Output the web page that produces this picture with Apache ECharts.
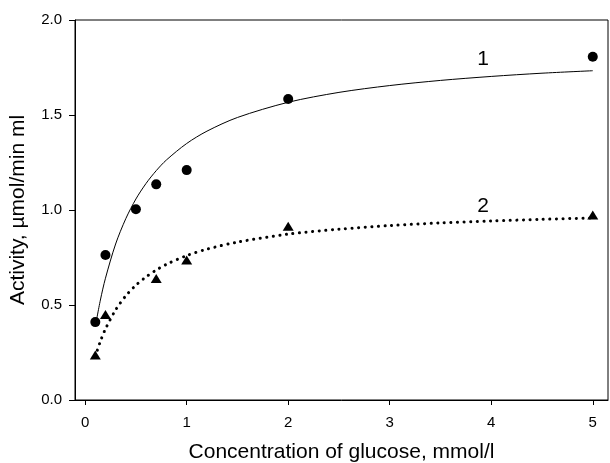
<!doctype html>
<html>
<head>
    <meta charset="utf-8">
    <title>Activity vs glucose</title>
    <script src="https://cdn.jsdelivr.net/npm/echarts@6/dist/echarts.min.js"></script>
</head>
<body style="margin:0;background:#fff">
    <div id="container" style="width:610px;height:463px;"></div>
    <script type="text/javascript">
        // measured points
        var conc = [0.1, 0.2, 0.5, 0.7, 1, 2, 5];
        var activity1 = [0.41, 0.763, 1.004, 1.135, 1.21, 1.584, 1.807];
        var conc2 = [0.1, 0.2, 0.7, 1, 2, 5];
        var activity2 = [0.237, 0.45, 0.64, 0.737, 0.915, 0.974];

        // fitted curves
        var curveX = [0.1, 0.15, 0.2, 0.3, 0.4, 0.5, 0.6, 0.7, 0.8, 1, 1.2, 1.5, 2, 2.5, 3, 3.5, 4, 4.5, 5];
        var curve1 = [0.387, 0.526, 0.641, 0.821, 0.954, 1.058, 1.14, 1.207, 1.263, 1.35, 1.415, 1.487, 1.567, 1.619, 1.655, 1.682, 1.703, 1.72, 1.733];
        var curve2 = [0.229, 0.309, 0.374, 0.474, 0.548, 0.604, 0.648, 0.684, 0.714, 0.76, 0.794, 0.831, 0.873, 0.899, 0.918, 0.932, 0.942, 0.951, 0.958];

        var xTicks = [0, 1, 2, 3, 4, 5];
        var curveNames = ['1', '2'];

        function pairs(xs, ys) {
            return xs.map(function (x, i) { return [x, ys[i]]; });
        }

        var font = 'Liberation Sans, Arial, sans-serif';

        function curveLabel(text, x, y) {
            return {
                symbol: 'circle',
                symbolSize: 1,
                itemStyle: { color: 'rgba(0,0,0,0)' },
                label: { show: true, position: 'inside', formatter: text, fontFamily: font, fontSize: 21, color: '#000' },
                data: [{ coord: [x, y] }]
            };
        }

        var option = {
            animation: false,
            grid: {
                left: 75, right: 2, top: 20, bottom: 63,
                containLabel: false, outerBoundsMode: 'none',
                show: true, borderColor: '#000', borderWidth: 1
            },
            xAxis: {
                type: 'value',
                min: -0.1,
                max: 5.15,
                name: 'Concentration of glucose, mmol/l',
                nameLocation: 'middle',
                nameGap: 42,
                nameTextStyle: { fontFamily: font, fontSize: 21, color: '#000' },
                axisLine: { onZero: false, lineStyle: { color: '#000' } },
                axisTick: { customValues: xTicks, length: 5, lineStyle: { color: '#000' } },
                axisLabel: { customValues: xTicks, fontFamily: font, fontSize: 15, color: '#000', margin: 15 },
                splitLine: { show: false }
            },
            yAxis: {
                type: 'value',
                min: 0,
                max: 2,
                interval: 0.5,
                name: 'Activity, µmol/min ml',
                nameLocation: 'middle',
                nameGap: 46,
                nameTextStyle: { fontFamily: font, fontSize: 21, color: '#000' },
                axisLine: { show: true, onZero: false, lineStyle: { color: '#000' } },
                axisTick: { show: true, length: 6, lineStyle: { color: '#000' } },
                axisLabel: {
                    fontFamily: font, fontSize: 15, color: '#000', margin: 13,
                    formatter: function (v) { return v.toFixed(1); }
                },
                splitLine: { show: false }
            },
            series: [
                {
                    type: 'line',
                    smooth: 0.3,
                    showSymbol: false,
                    data: pairs(curveX, curve1),
                    lineStyle: { color: '#000', width: 1 },
                    markPoint: curveLabel(curveNames[0], 3.92, 1.795)
                },
                {
                    type: 'line',
                    smooth: 0.3,
                    showSymbol: false,
                    data: pairs(curveX, curve2),
                    lineStyle: { color: '#000', width: 3, type: [0.1, 6.5], cap: 'round' },
                    markPoint: curveLabel(curveNames[1], 3.92, 1.02)
                },
                {
                    type: 'scatter',
                    symbol: 'circle',
                    symbolSize: 10,
                    itemStyle: { color: '#000', opacity: 1 },
                    data: pairs(conc, activity1)
                },
                {
                    type: 'scatter',
                    symbol: 'triangle',
                    symbolSize: [11, 9],
                    itemStyle: { color: '#000', opacity: 1 },
                    data: pairs(conc2, activity2)
                }
            ]
        };

        var myChart = echarts.init(document.getElementById('container'));
        myChart.setOption(option);
    </script>
</body>
</html>
